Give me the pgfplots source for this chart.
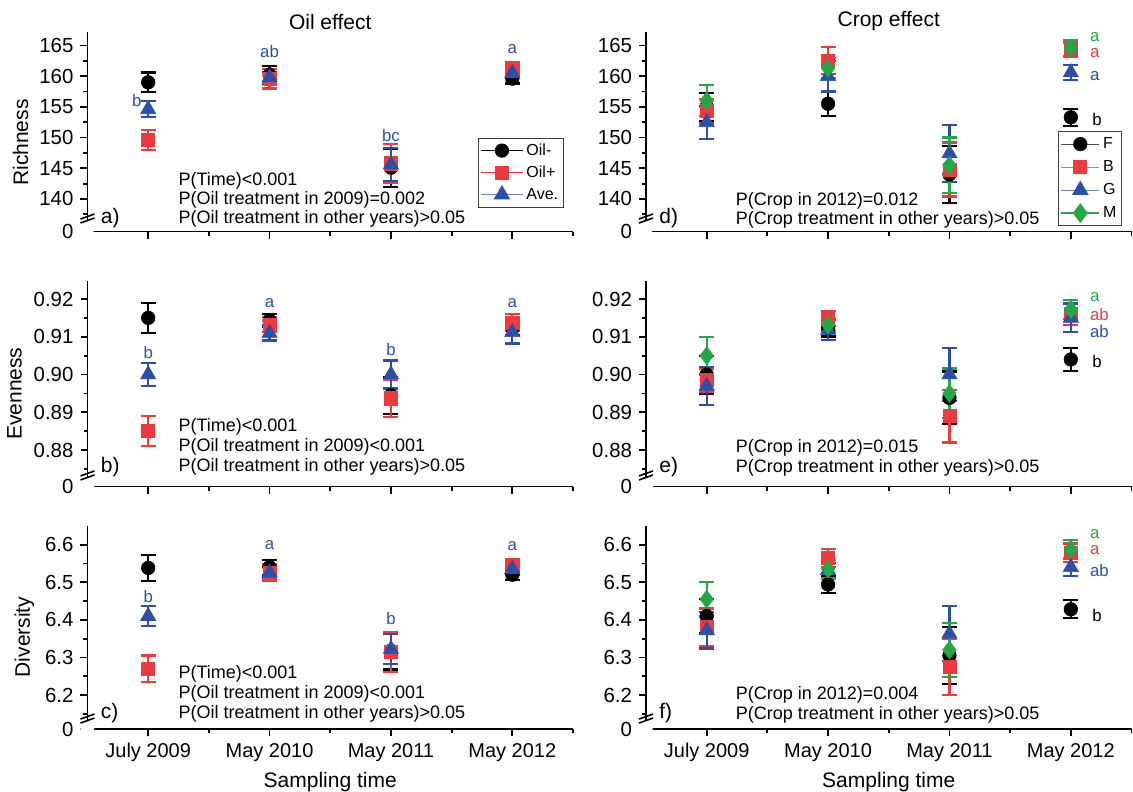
\documentclass[border=0pt]{standalone}
\usepackage{fontspec}
\setmainfont{Liberation Sans}
\usepackage{pgfplots}
\pgfplotsset{compat=1.18}
\definecolor{cred}{HTML}{EC3A3F}
\definecolor{cblu}{HTML}{2C4FA8}
\definecolor{cgrn}{HTML}{22A847}

\newcommand\tickf{\fontsize{10.2}{11}\selectfont}
\newcommand\labf{\fontsize{10.5}{12}\selectfont}
\newcommand\ptf{\fontsize{9}{10}\selectfont}
\newcommand\letf{\fontsize{8.4}{9}\selectfont}

% y-axis break symbol at (x,y) in axis cs
\newcommand\brk[1]{%
  \fill[white] ([xshift=-3.5pt,yshift=-2.5pt]axis cs:#1) -- ++(7pt,2.5pt) -- ++(0,2pt) -- ++(-7pt,-2.5pt) -- cycle;
  \draw[line width=0.8pt] ([xshift=-3.5pt,yshift=-2.5pt]axis cs:#1) -- ++(7pt,2.5pt);
  \draw[line width=0.8pt] ([xshift=-3.5pt,yshift=-0.5pt]axis cs:#1) -- ++(7pt,2.5pt);}

\pgfplotsset{
  panel/.style={
    scale only axis, width=242.75pt, anchor=south west,
    xmin=0.5, xmax=4.5,
    axis x line*=bottom, axis y line*=left,
    axis line style={line width=0.9pt, -},
    tick align=outside,
    xtick={1,2,3,4}, minor xtick={0.5,1.5,2.5,3.5,4.5},
    xticklabels={},
    major tick length=3.5pt, minor tick length=2pt,
    every tick/.style={black, line width=0.9pt},
    tick label style={font=\tickf},
    xticklabel style={font=\fontsize{10}{11}\selectfont},
    /pgf/number format/assume math mode=true,
    clip=false,
    legend cell align=left,
  },
  rowa/.style={height=100pt, ymin=134.7, ymax=167.28,
    ytick={134.7,140,145,150,155,160,165},
    yticklabels={0,140,145,150,155,160,165},
    minor ytick={137.5,142.5,147.5,152.5,157.5,162.5}},
  rowb/.style={height=103pt, ymin=0.87033, ymax=0.9249,
    ytick={0.87033,0.88,0.89,0.90,0.91,0.92},
    yticklabels={0,0.88,0.89,0.90,0.91,0.92},
    minor ytick={0.875,0.885,0.895,0.905,0.915}},
  rowc/.style={height=101.5pt, ymin=6.109, ymax=6.6486,
    ytick={6.109,6.2,6.3,6.4,6.5,6.6},
    yticklabels={0,6.2,6.3,6.4,6.5,6.6},
    minor ytick={6.15,6.25,6.35,6.45,6.55},
    xticklabels={July 2009,May 2010,May 2011,May 2012}},
  ser/.style={only marks, forget plot, color=#1,
    mark options={solid, fill=#1, draw=#1, line width=0.3pt},
    error bars/y dir=both, error bars/y explicit,
    error bars/error bar style={line width=1.1pt, color=#1},
    error bars/error mark options={rotate=90, mark size=3.75pt, line width=1.1pt, color=#1}},
  cF/.style={ser=black, mark=*, mark size=3.4pt},
  cB/.style={ser=cred, mark=square*, mark size=3.3pt},
  cG/.style={ser=cblu, mark=triangle*, mark size=4.4pt},
  cM/.style={ser=cgrn, mark=diamond*, mark size=4.5pt},
}

\begin{document}
\begin{tikzpicture}
\useasboundingbox (0,0) rectangle (566.5pt,395.5pt);

% ---------- a) Richness, oil ----------
\begin{axis}[panel, rowa, at={(43.75pt,279.75pt)},
  legend style={at={(0.804,0.47)}, anchor=north west, draw=black!75, line width=0.6pt,
    font=\fontsize{8}{9}\selectfont, inner sep=1pt, row sep=0.5pt,
    nodes={text height=6pt, text depth=1.5pt, inner sep=1.5pt}},
  legend image code/.code={\draw[mark repeat=2,mark phase=2,#1] plot coordinates {(0pt,0pt) (10.5pt,0pt) (21pt,0pt)};}]
\addplot[cF] coordinates {(1,159.0) +- (0,1.6) (2,160.2) +- (0,1.5) (3,145.1) +- (0,3.1) (4,159.6) +- (0,0.8)};
\addplot[cB] coordinates {(1,149.6) +- (0,1.65) (2,159.6) +- (0,1.6) (3,145.8) +- (0,3.2) (4,161.3) +- (0,1.0)};
\addplot[cG] coordinates {(1,154.6) +- (0,1.3) (2,159.8) +- (0,0.85) (3,145.6) +- (0,2.7) (4,160.5) +- (0,0.6)};
\addlegendimage{black, line width=0.5pt, mark=*, mark size=3.3pt, mark options={solid, fill=black}}
\addlegendentry{Oil-}
\addlegendimage{cred, line width=0.5pt, mark=square*, mark size=3.2pt, mark options={solid, fill=cred}}
\addlegendentry{Oil+}
\addlegendimage{cblu!70, line width=0.5pt, mark=triangle*, mark size=4.3pt, mark options={solid, fill=cblu, draw=cblu}}
\addlegendentry{Ave.}
\node[font=\letf, text=cblu] at (axis cs:0.907,156.1) {b};
\node[font=\letf, text=cblu] at (axis cs:2,164.0) {ab};
\node[font=\letf, text=cblu] at (axis cs:3,150.4) {bc};
\node[font=\letf, text=cblu] at (axis cs:4,164.5) {a};
\node[font=\ptf, anchor=west, inner sep=0pt] at (axis cs:1.2475,142.98) {P(Time)<0.001};
\node[font=\ptf, anchor=west, inner sep=0pt] at (axis cs:1.2475,139.84) {P(Oil treatment in 2009)=0.002};
\node[font=\ptf, anchor=west, inner sep=0pt] at (axis cs:1.2475,136.82) {P(Oil treatment in other years)>0.05};
\node[font=\labf, anchor=west, inner sep=0pt] at (axis cs:0.607,136.82) {a)};
\node[font=\labf] at ([yshift=5pt]rel axis cs:0.5,1) {Oil effect};
\node[font=\labf, rotate=90] at ([xshift=-33.5pt]rel axis cs:0,0.445) {Richness};
\brk{0.5,136.9}
\end{axis}

% ---------- d) Richness, crop ----------
\begin{axis}[panel, rowa, at={(323pt,279.75pt)},
  legend style={at={(0.8486,0.5025)}, anchor=north west, draw=black!75, line width=0.6pt,
    font=\fontsize{8}{9}\selectfont, inner sep=1pt, row sep=1pt,
    nodes={text height=6pt, text depth=1.5pt, inner sep=1.5pt}},
  legend image code/.code={\draw[mark repeat=2,mark phase=2,#1] plot coordinates {(0pt,0pt) (9.5pt,0pt) (19pt,0pt)};}]
\addplot[cF] coordinates {(1,155.0) +- (0,2.3) (2,155.5) +- (0,2.0) (3,144.0) +- (0,4.6) (4,153.3) +- (0,1.4)};
\addplot[cB] coordinates {(1,154.3) +- (0,2.0) (2,162.5) +- (0,2.2) (3,144.8) +- (0,4.4) (4,164.3) +- (0,1.2)};
\addplot[cG] coordinates {(1,152.5) +- (0,2.7) (2,160.0) +- (0,2.5) (3,147.4) +- (0,4.6) (4,160.6) +- (0,1.2)};
\addplot[cM] coordinates {(1,156.0) +- (0,2.5) (2,161.3) +- (0,1.6) (3,145.5) +- (0,4.5) (4,164.6) +- (0,1.3)};
\addlegendimage{black!70, line width=0.5pt, mark=*, mark size=3.3pt, mark options={solid, fill=black, draw=black}}
\addlegendentry{F}
\addlegendimage{cred!80, line width=0.5pt, mark=square*, mark size=3.2pt, mark options={solid, fill=cred, draw=cred}}
\addlegendentry{B}
\addlegendimage{cblu!70, line width=0.5pt, mark=triangle*, mark size=4.3pt, mark options={solid, fill=cblu, draw=cblu}}
\addlegendentry{G}
\addlegendimage{cgrn, line width=0.7pt, mark=diamond*, mark size=4.4pt, mark options={solid, fill=cgrn, draw=cgrn}}
\addlegendentry{M}
\node[font=\letf, text=cgrn, anchor=west] at (axis cs:4.10,166.4) {a};
\node[font=\letf, text=cred, anchor=west] at (axis cs:4.10,163.7) {a};
\node[font=\letf, text=cblu, anchor=west] at (axis cs:4.10,160.0) {a};
\node[font=\letf, text=black, anchor=west] at (axis cs:4.12,153.0) {b};
\node[font=\ptf, anchor=west, inner sep=0pt] at (axis cs:1.237,139.67) {P(Crop in 2012)=0.012};
\node[font=\ptf, anchor=west, inner sep=0pt] at (axis cs:1.237,136.6) {P(Crop treatment in other years)>0.05};
\node[font=\labf, anchor=west, inner sep=0pt] at (axis cs:0.607,136.82) {d)};
\node[font=\labf] at ([yshift=5pt]rel axis cs:0.5,1) {Crop effect};
\brk{0.5,136.9}
\end{axis}

% ---------- b) Evenness, oil ----------
\begin{axis}[panel, rowb, at={(43.75pt,152.25pt)}]
\addplot[cF] coordinates {(1,0.915) +- (0,0.004) (2,0.9143) +- (0,0.0018) (3,0.8945) +- (0,0.0049) (4,0.9122) +- (0,0.0018)};
\addplot[cB] coordinates {(1,0.885) +- (0,0.004) (2,0.9132) +- (0,0.002) (3,0.8937) +- (0,0.005) (4,0.9138) +- (0,0.0022)};
\addplot[cG] coordinates {(1,0.900) +- (0,0.003) (2,0.911) +- (0,0.002) (3,0.900) +- (0,0.0037) (4,0.9112) +- (0,0.003)};
\node[font=\letf, text=cblu] at (axis cs:1,0.9058) {b};
\node[font=\letf, text=cblu] at (axis cs:2,0.9189) {a};
\node[font=\letf, text=cblu] at (axis cs:3,0.9065) {b};
\node[font=\letf, text=cblu] at (axis cs:4,0.9189) {a};
\node[font=\ptf, anchor=west, inner sep=0pt] at (axis cs:1.2475,0.88617) {P(Time)<0.001};
\node[font=\ptf, anchor=west, inner sep=0pt] at (axis cs:1.2475,0.88087) {P(Oil treatment in 2009)<0.001};
\node[font=\ptf, anchor=west, inner sep=0pt] at (axis cs:1.2475,0.87557) {P(Oil treatment in other years)>0.05};
\node[font=\labf, anchor=west, inner sep=0pt] at (axis cs:0.607,0.87557) {b)};
\node[font=\labf, rotate=90] at ([xshift=-36.5pt]rel axis cs:0,0.451) {Evenness};
\brk{0.5,0.8734}
\end{axis}

% ---------- e) Evenness, crop ----------
\begin{axis}[panel, rowb, at={(323pt,152.25pt)}]
\addplot[cF] coordinates {(1,0.900) +- (0,0.005) (2,0.9123) +- (0,0.0022) (3,0.8938) +- (0,0.007) (4,0.904) +- (0,0.003)};
\addplot[cB] coordinates {(1,0.8985) +- (0,0.003) (2,0.9148) +- (0,0.002) (3,0.889) +- (0,0.007) (4,0.916) +- (0,0.0028)};
\addplot[cG] coordinates {(1,0.897) +- (0,0.005) (2,0.9118) +- (0,0.0027) (3,0.900) +- (0,0.007) (4,0.915) +- (0,0.0038)};
\addplot[cM] coordinates {(1,0.905) +- (0,0.005) (2,0.9132) +- (0,0.0018) (3,0.895) +- (0,0.0066) (4,0.9172) +- (0,0.0025)};
\node[font=\letf, text=cgrn, anchor=west] at (axis cs:4.10,0.9206) {a};
\node[font=\letf, text=cred, anchor=west] at (axis cs:4.10,0.9158) {ab};
\node[font=\letf, text=cblu, anchor=west] at (axis cs:4.10,0.9113) {ab};
\node[font=\letf, text=black, anchor=west] at (axis cs:4.12,0.9034) {b};
\node[font=\ptf, anchor=west, inner sep=0pt] at (axis cs:1.237,0.88045) {P(Crop in 2012)=0.015};
\node[font=\ptf, anchor=west, inner sep=0pt] at (axis cs:1.237,0.87515) {P(Crop treatment in other years)>0.05};
\node[font=\labf, anchor=west, inner sep=0pt] at (axis cs:0.607,0.87557) {e)};
\brk{0.5,0.8734}
\end{axis}

% ---------- c) Diversity, oil ----------
\begin{axis}[panel, rowc, at={(43.75pt,30.85pt)}]
\addplot[cF] coordinates {(1,6.538) +- (0,0.035) (2,6.54) +- (0,0.02) (3,6.318) +- (0,0.05) (4,6.52) +- (0,0.015)};
\addplot[cB] coordinates {(1,6.27) +- (0,0.035) (2,6.525) +- (0,0.022) (3,6.315) +- (0,0.053) (4,6.54) +- (0,0.021)};
\addplot[cG] coordinates {(1,6.41) +- (0,0.026) (2,6.525) +- (0,0.015) (3,6.322) +- (0,0.04) (4,6.535) +- (0,0.015)};
\node[font=\letf, text=cblu] at (axis cs:1,6.4628) {b};
\node[font=\letf, text=cblu] at (axis cs:2,6.598) {a};
\node[font=\letf, text=cblu] at (axis cs:3,6.4036) {b};
\node[font=\letf, text=cblu] at (axis cs:4,6.5955) {a};
\node[font=\ptf, anchor=west, inner sep=0pt] at (axis cs:1.2475,6.2576) {P(Time)<0.001};
\node[font=\ptf, anchor=west, inner sep=0pt] at (axis cs:1.2475,6.2045) {P(Oil treatment in 2009)<0.001};
\node[font=\ptf, anchor=west, inner sep=0pt] at (axis cs:1.2475,6.1514) {P(Oil treatment in other years)>0.05};
\node[font=\labf, anchor=west, inner sep=0pt] at (axis cs:0.607,6.1514) {c)};
\node[font=\labf, rotate=90] at ([xshift=-31.5pt]rel axis cs:0,0.455) {Diversity};
\node[font=\labf, anchor=base] at ([yshift=-28.85pt]rel axis cs:0.5,0) {Sampling time};
\brk{0.5,6.139}
\end{axis}

% ---------- f) Diversity, crop ----------
\begin{axis}[panel, rowc, at={(323pt,30.85pt)}]
\addplot[cF] coordinates {(1,6.41) +- (0,0.045) (2,6.494) +- (0,0.023) (3,6.305) +- (0,0.075) (4,6.428) +- (0,0.024)};
\addplot[cB] coordinates {(1,6.38) +- (0,0.05) (2,6.565) +- (0,0.024) (3,6.275) +- (0,0.075) (4,6.578) +- (0,0.025)};
\addplot[cG] coordinates {(1,6.372) +- (0,0.048) (2,6.532) +- (0,0.02) (3,6.363) +- (0,0.073) (4,6.54) +- (0,0.024)};
\addplot[cM] coordinates {(1,6.455) +- (0,0.046) (2,6.535) +- (0,0.025) (3,6.32) +- (0,0.072) (4,6.588) +- (0,0.025)};
\node[font=\letf, text=cgrn, anchor=west] at (axis cs:4.10,6.629) {a};
\node[font=\letf, text=cred, anchor=west] at (axis cs:4.10,6.585) {a};
\node[font=\letf, text=cblu, anchor=west] at (axis cs:4.10,6.532) {ab};
\node[font=\letf, text=black, anchor=west] at (axis cs:4.12,6.412) {b};
\node[font=\ptf, anchor=west, inner sep=0pt] at (axis cs:1.237,6.2019) {P(Crop in 2012)=0.004};
\node[font=\ptf, anchor=west, inner sep=0pt] at (axis cs:1.237,6.1469) {P(Crop treatment in other years)>0.05};
\node[font=\labf, anchor=west, inner sep=0pt] at (axis cs:0.607,6.1514) {f)};
\node[font=\labf, anchor=base] at ([yshift=-28.85pt]rel axis cs:0.5,0) {Sampling time};
\brk{0.5,6.139}
\end{axis}
\end{tikzpicture}
\end{document}
